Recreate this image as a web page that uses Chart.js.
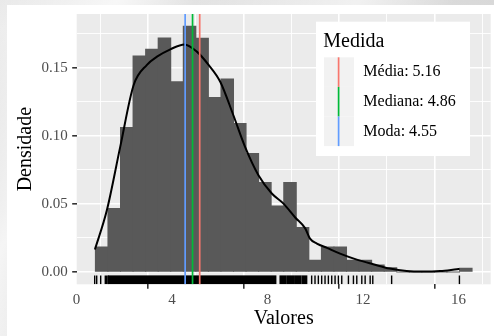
<!DOCTYPE html>
<html>
<head>
<meta charset="utf-8">
<script src="https://cdn.jsdelivr.net/npm/chart.js@4/dist/chart.umd.min.js"></script>
<style>
html, body { margin: 0; padding: 0; width: 494px; height: 336px; overflow: hidden; }
body {
  background:
    linear-gradient(115deg, rgba(255,255,255,0.0) 0%, rgba(255,255,255,0.7) 18%, rgba(255,255,255,0) 30%, rgba(255,255,255,0.6) 55%, rgba(255,255,255,0) 70%),
    linear-gradient(200deg, #d8d8d8 0%, #ececec 40%, #dadada 75%, #e9e9e9 100%);
}
canvas { position: absolute; left: 0; top: 0; }
</style>
</head>
<body>
<canvas id="c" width="494" height="336"></canvas>
<script>
// ---- Data ----
const binCenters = [1.053, 1.579, 2.105, 2.631, 3.157, 3.683, 4.209, 4.735, 5.261, 5.787,
                    6.313, 6.839, 7.365, 7.891, 8.417, 8.943, 9.469, 9.995, 10.521, 11.047,
                    11.573, 12.099, 12.625, 13.151, 13.677, 14.203, 14.729, 15.255, 15.781, 16.307];
const binDensity = [0.0184, 0.0466, 0.1061, 0.1585, 0.1634, 0.1717, 0.1396, 0.1803, 0.1715, 0.1281,
                    0.1416, 0.1090, 0.0870, 0.0657, 0.0485, 0.0657, 0.0326, 0.0086, 0.0184, 0.0184,
                    0.0086, 0.0086, 0.0051, 0.0032, 0, 0, 0, 0, 0, 0.0027];

const densityX = [0.77, 1.27, 1.83, 2.39, 2.95, 3.37, 3.93, 4.52, 5.04, 5.53, 6.02, 6.57, 7.06, 7.62,
                  8.18, 8.67, 9.16, 9.58, 9.78, 10.07, 10.49, 11.04, 11.74, 12.43, 13.13, 13.83,
                  14.53, 15.23, 15.93, 16.04];
const densityY = [0.0165, 0.0453, 0.0918, 0.137, 0.152, 0.158, 0.1634, 0.167, 0.1617, 0.152, 0.1396,
                  0.115, 0.0918, 0.071, 0.0576, 0.0502, 0.040, 0.032, 0.0245, 0.0209, 0.0177, 0.0135,
                  0.0091, 0.0057, 0.0025, 0.0007, 0.0003, 0.0007, 0.0020, 0.0022];

// rug: single observations and densely packed stretches
const rugTicks = [0.761, 0.845, 1.012, 1.205, 1.264, 1.318,
                  9.85, 9.99, 10.13, 10.27, 10.41, 10.55, 10.69, 10.83, 10.97, 11.11,
                  11.39, 11.60, 11.74, 11.95, 12.09, 12.30, 12.41, 13.20, 16.04];
const rugSpans = [[1.348, 8.344], [8.53, 8.78], [8.84, 9.12], [9.18, 9.40], [9.46, 9.64]];

const statNames = ['Média', 'Mediana', 'Moda'];
const statValues = [5.16, 4.86, 4.55];
const statColors = ['#F8766D', '#00BA38', '#619CFF'];
const legendTitle = 'Medida';

const xMajorTicks = [0, 4, 8, 12, 16];
const xMinorTicks = [2, 6, 10, 14];
const yMajorTicks = [0, 0.05, 0.10, 0.15];
const yMinorTicks = [0.025, 0.075, 0.125, 0.175];
const xLimits = [0.007, 17.35];
const yLimits = [-0.00902, 0.1893];

const xTitle = 'Valores';
const yTitle = 'Densidade';

// ---- Chart ----
const FONT = "'Liberation Serif', 'DejaVu Serif', serif";
const histData = binCenters.map((x, i) => ({ x: x, y: binDensity[i] }));
const densData = densityX.map((x, i) => ({ x: x, y: densityY[i] }));
const allX = xMajorTicks.concat(xMinorTicks).sort((a, b) => a - b);
const allY = yMajorTicks.concat(yMinorTicks).sort((a, b) => a - b);
const isMajor = (arr, v) => arr.some(m => Math.abs(m - v) < 1e-9);

const statDatasets = statValues.map((v, i) => ({
  type: 'line',
  label: statNames[i],
  data: [{ x: v, y: yLimits[0] }, { x: v, y: yLimits[1] }],
  borderColor: statColors[i],
  borderWidth: 1.7,
  pointRadius: 0,
  order: 0
}));

const backgroundPlugin = {
  id: 'bgPanel',
  beforeDraw(chart) {
    const { ctx, chartArea: a } = chart;
    ctx.save();
    ctx.fillStyle = '#ffffff';
    ctx.fillRect(7, 5, chart.width - 7, chart.height - 5);
    ctx.fillStyle = '#EBEBEB';
    ctx.fillRect(a.left, a.top, a.right - a.left, a.bottom - a.top);
    ctx.restore();
  }
};

const rugPlugin = {
  id: 'rug',
  beforeDatasetsDraw(chart) {
    const { ctx, chartArea: a, scales } = chart;
    const xs = scales.x;
    const len = (a.bottom - a.top) * 0.033;
    ctx.save();
    ctx.beginPath();
    ctx.rect(a.left, a.top, a.right - a.left, a.bottom - a.top);
    ctx.clip();
    ctx.strokeStyle = '#000000';
    ctx.fillStyle = '#000000';
    ctx.lineWidth = 1.4;
    rugTicks.forEach(v => {
      const px = xs.getPixelForValue(v);
      ctx.beginPath();
      ctx.moveTo(px, a.bottom);
      ctx.lineTo(px, a.bottom - len);
      ctx.stroke();
    });
    rugSpans.forEach(s => {
      const p0 = xs.getPixelForValue(s[0]);
      const p1 = xs.getPixelForValue(s[1]);
      ctx.fillRect(p0 - 0.7, a.bottom - len, p1 - p0 + 1.4, len);
    });
    ctx.restore();
  }
};

const legendPlugin = {
  id: 'ggLegend',
  afterDraw(chart) {
    const { ctx } = chart;
    ctx.save();
    ctx.fillStyle = '#ffffff';
    ctx.fillRect(316, 21.7, 154, 134.3);
    ctx.fillStyle = '#000000';
    ctx.font = '20px ' + FONT;
    ctx.textBaseline = 'alphabetic';
    ctx.textAlign = 'left';
    ctx.fillText(legendTitle, 323.3, 46.7);
    const keyH = 29.6;
    statNames.forEach((name, i) => {
      const top = 57.3 + i * keyH;
      ctx.fillStyle = '#F2F2F2';
      ctx.fillRect(324, top, 30, keyH);
    });
    statNames.forEach((name, i) => {
      const top = 57.3 + i * keyH;
      ctx.strokeStyle = statColors[i];
      ctx.lineWidth = 1.7;
      ctx.beginPath();
      ctx.moveTo(338.6, top);
      ctx.lineTo(338.6, top + keyH);
      ctx.stroke();
      ctx.fillStyle = '#000000';
      ctx.font = '16px ' + FONT;
      ctx.textBaseline = 'middle';
      ctx.fillText(name + ': ' + statValues[i].toFixed(2), 363.3, top + keyH / 2);
    });
    ctx.restore();
  }
};

new Chart(document.getElementById('c'), {
  type: 'bar',
  data: {
    datasets: statDatasets.concat([
      {
        type: 'line',
        label: 'density',
        data: densData,
        borderColor: '#000000',
        borderWidth: 2,
        pointRadius: 0,
        cubicInterpolationMode: 'monotone',
        order: 1
      },
      {
        type: 'bar',
        label: 'hist',
        data: histData,
        backgroundColor: '#595959',
        borderWidth: 0,
        inflateAmount: 0.5,
        barPercentage: 1,
        categoryPercentage: 1,
        order: 2
      }
    ])
  },
  options: {
    responsive: false,
    animation: false,
    devicePixelRatio: 1,
    layout: { padding: { left: 0, top: 14, right: 3.3, bottom: 0 } },
    plugins: { legend: { display: false }, tooltip: { enabled: false } },
    scales: {
      x: {
        type: 'linear',
        min: xLimits[0],
        max: xLimits[1],
        offset: false,
        afterFit(scale) { scale.height = 51.7; },
        afterBuildTicks(scale) { scale.ticks = allX.map(v => ({ value: v })); },
        border: { display: false },
        grid: {
          color: '#FFFFFF',
          lineWidth: (c) => (c.tick && isMajor(xMajorTicks, c.tick.value)) ? 1.6 : 0.9,
          tickColor: (c) => (c.tick && isMajor(xMajorTicks, c.tick.value)) ? '#333333' : 'rgba(0,0,0,0)',
          tickWidth: 1.6,
          tickLength: 4.5,
          drawTicks: true
        },
        ticks: {
          autoSkip: false,
          maxRotation: 0,
          padding: 2,
          color: '#4D4D4D',
          font: { family: FONT, size: 15 },
          callback: (v) => isMajor(xMajorTicks, v) ? String(v) : ''
        },
        title: {
          display: true,
          text: xTitle,
          color: '#000000',
          font: { family: FONT, size: 20 },
          padding: { top: 0, bottom: 5.75 }
        }
      },
      y: {
        type: 'linear',
        min: yLimits[0],
        max: yLimits[1],
        afterFit(scale) { scale.width = 76.7; },
        afterBuildTicks(scale) { scale.ticks = allY.map(v => ({ value: v })); },
        border: { display: false },
        grid: {
          color: '#FFFFFF',
          lineWidth: (c) => (c.tick && isMajor(yMajorTicks, c.tick.value)) ? 1.6 : 0.9,
          tickColor: (c) => (c.tick && isMajor(yMajorTicks, c.tick.value)) ? '#333333' : 'rgba(0,0,0,0)',
          tickWidth: 1.6,
          tickLength: 4.5,
          drawTicks: true
        },
        ticks: {
          autoSkip: false,
          padding: 4.5,
          color: '#4D4D4D',
          font: { family: FONT, size: 15 },
          callback: (v) => isMajor(yMajorTicks, v) ? v.toFixed(2) : ''
        },
        title: {
          display: true,
          text: yTitle,
          color: '#000000',
          font: { family: FONT, size: 20 },
          padding: { top: 13.5, bottom: 0 }
        }
      }
    }
  },
  plugins: [backgroundPlugin, rugPlugin, legendPlugin]
});
</script>
</body>
</html>
